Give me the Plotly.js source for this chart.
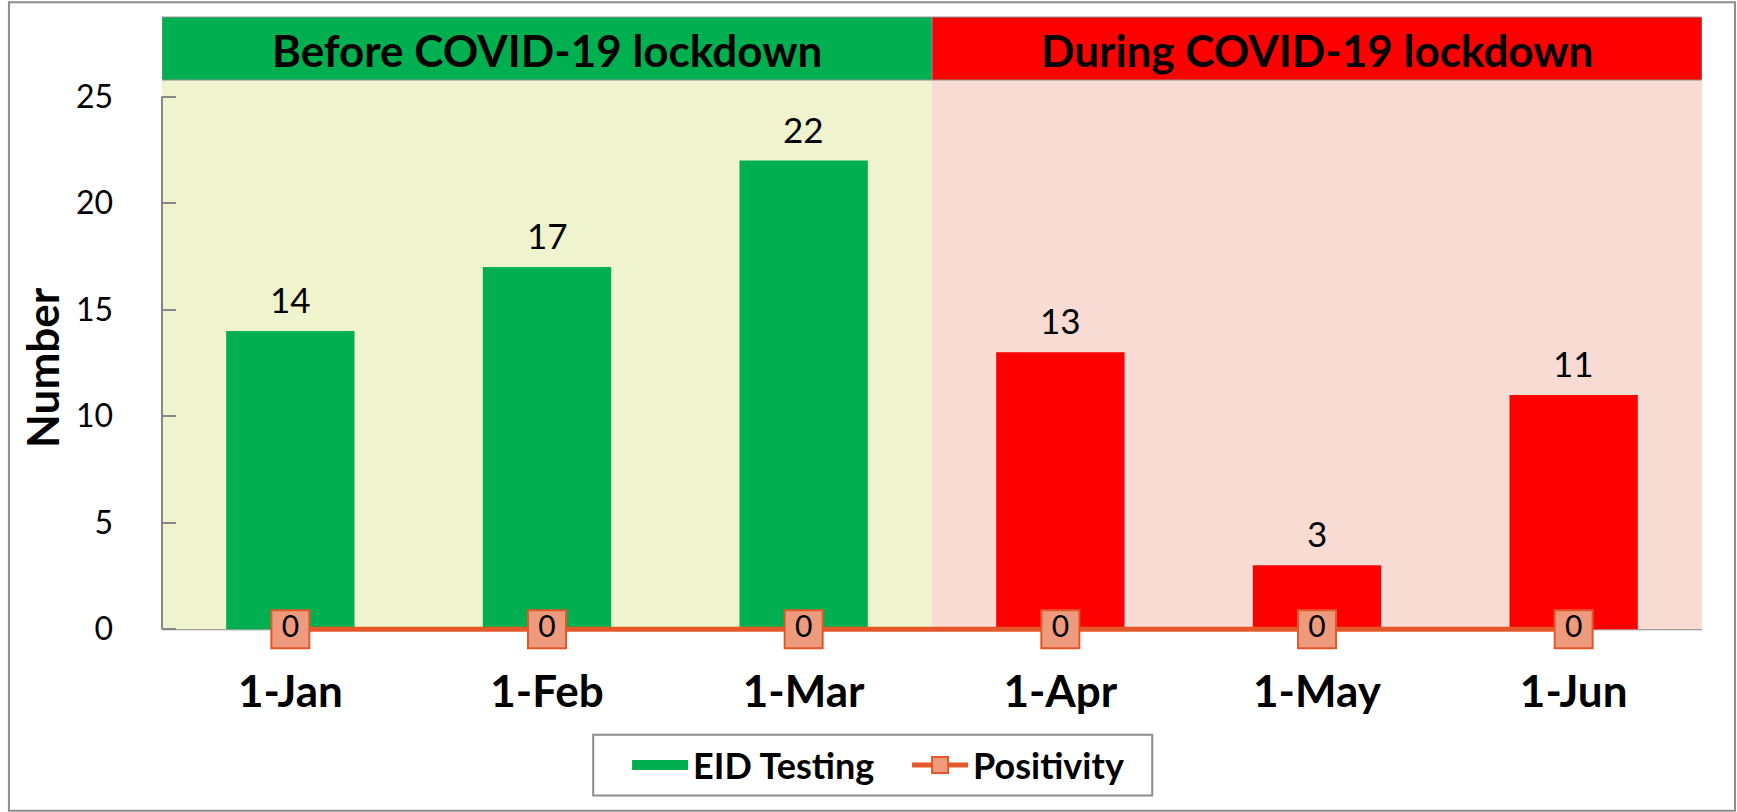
<!DOCTYPE html>
<html>
<head>
<meta charset="utf-8">
<script src="https://cdn.plot.ly/plotly-3.0.1.min.js"></script>
<style>
  html, body { margin: 0; padding: 0; background: #fff; }
  #chart { width: 1737px; height: 812px; }
</style>
</head>
<body>
<div id="chart"></div>
<script>
// months and values
var months = ['1-Jan', '1-Feb', '1-Mar', '1-Apr', '1-May', '1-Jun'];
var eidTesting = [14, 17, 22, 13, 3, 11];
var positivity = [0, 0, 0, 0, 0, 0];
var barColors = ['#00B050', '#00B050', '#00B050', '#FF0000', '#FF0000', '#FF0000'];

// the two periods, as index ranges on the category axis
var periods = ['Before COVID-19 lockdown', 'During COVID-19 lockdown'];
var periodStart = [0, 3];
var periodEnd = [2, 5];
var periodBand = ['#00B050', '#FF0000'];
var periodBg = ['#F0F4CE', '#F8DCD4'];

var yMax = 25.78;
var fontFam = 'Lato, "Open Sans", sans-serif';

var bars = {
  type: 'bar',
  name: 'EID Testing',
  x: months,
  y: eidTesting,
  width: 0.5,
  marker: { color: barColors },
  showlegend: false,
  hoverinfo: 'x+y'
};

// legend entry for the bars (wide green swatch)
var barsKey = {
  type: 'scatter',
  mode: 'lines',
  name: 'EID Testing',
  x: [null],
  y: [null],
  line: { color: '#00B050', width: 20 },
  hoverinfo: 'skip'
};

var line = {
  type: 'scatter',
  mode: 'lines+markers+text',
  name: 'Positivity',
  x: months,
  y: positivity,
  text: positivity.map(String),
  textposition: 'middle center',
  textfont: { family: fontFam, size: 30, color: '#000' },
  line: { color: '#E4572A', width: 5 },
  marker: { symbol: 'square', size: 38, color: '#EE9A7D', line: { color: '#E4572A', width: 2 } },
  cliponaxis: false
};

var shapes = [];
var annotations = [];
periods.forEach(function(p, i) {
  shapes.push({
    type: 'rect', layer: 'below', xref: 'x', yref: 'y',
    x0: periodStart[i] - 0.5, x1: periodEnd[i] + 0.5, y0: 0, y1: yMax,
    fillcolor: periodBg[i], line: { width: 0 }
  });
  shapes.push({
    type: 'rect', layer: 'above', xref: 'x', yref: 'paper',
    x0: periodStart[i] - 0.5, x1: periodEnd[i] + 0.5, y0: 1, y1: 1.114,
    fillcolor: periodBand[i], line: { color: '#8c8c8c', width: 1 }
  });
  annotations.push({
    xref: 'x', yref: 'paper',
    x: (periodStart[i] + periodEnd[i]) / 2, y: 1.054,
    xanchor: 'center', yanchor: 'middle',
    text: '<b>' + p + '</b>', showarrow: false,
    font: { family: fontFam, size: 44, color: '#000' }
  });
});

// value labels above the bars
eidTesting.forEach(function(v, i) {
  annotations.push({
    x: months[i], y: v, xref: 'x', yref: 'y',
    xanchor: 'center', yanchor: 'middle',
    text: String(v), showarrow: false, yshift: 32,
    font: { family: fontFam, size: 35, color: '#000' }
  });
});

// y axis title
annotations.push({
  xref: 'paper', yref: 'paper', x: -0.078, y: 0.48,
  xanchor: 'center', yanchor: 'middle', textangle: -90,
  text: '<b>Number</b>', showarrow: false,
  font: { family: fontFam, size: 44, color: '#000' }
});

// axis lines drawn as shapes: y stops at 25, x sits at 0
shapes.push({
  type: 'line', xref: 'paper', yref: 'y', x0: 0, x1: 0, y0: 0, y1: 25,
  line: { color: '#888', width: 2 }
});
shapes.push({
  type: 'line', layer: 'below', xref: 'paper', yref: 'y', x0: 0, x1: 1, y0: 0, y1: 0,
  line: { color: '#888', width: 2 }
});
// legend frame
shapes.push({
  type: 'rect', xref: 'paper', yref: 'paper',
  x0: 0.280, x1: 0.643, y0: -0.296, y1: -0.186,
  line: { color: '#8c8c8c', width: 2 }
});
// outer chart border
shapes.push({
  type: 'rect', xref: 'paper', yref: 'paper',
  x0: -0.0994, x1: 1.0214, y0: -0.324, y1: 1.141,
  line: { color: '#8c8c8c', width: 2 }
});

var layout = {
  width: 1737,
  height: 812,
  margin: { l: 162, r: 35, t: 80, b: 180 },
  paper_bgcolor: '#fff',
  plot_bgcolor: 'rgba(0,0,0,0)',
  font: { family: fontFam, color: '#000' },
  showlegend: true,
  legend: {
    orientation: 'h', x: 0.302, xanchor: 'left', y: -0.241, yanchor: 'middle',
    borderwidth: 0, bgcolor: 'rgba(0,0,0,0)',
    font: { family: fontFam, size: 36, color: '#000', weight: 'bold' },
    itemwidth: 56,
    entrywidth: 209,
    traceorder: 'normal'
  },
  xaxis: {
    type: 'category',
    range: [-0.5, 5.5],
    showgrid: false,
    showline: false,
    ticks: '',
    tickfont: { family: fontFam, size: 44, weight: 'bold' },
    ticklabelstandoff: 30,
    zeroline: false
  },
  yaxis: {
    range: [-0.13, yMax],
    tickvals: [0, 5, 10, 15, 20, 25],
    showgrid: false,
    showline: false,
    zeroline: false,
    ticks: 'inside', ticklen: 14, tickcolor: '#888', tickwidth: 2,
    tickfont: { family: fontFam, size: 32 },
    ticklabelstandoff: 48
  },
  shapes: shapes,
  annotations: annotations,
  bargap: 0.5
};

Plotly.newPlot('chart', [bars, barsKey, line], layout, { displaylogo: false, displayModeBar: false });
</script>
</body>
</html>
